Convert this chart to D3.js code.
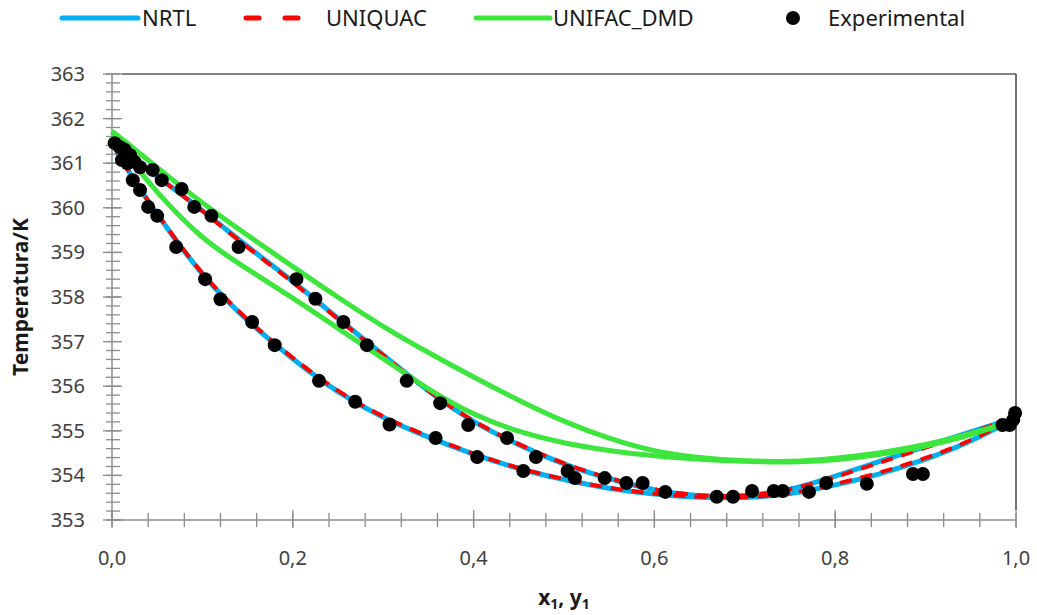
<!DOCTYPE html>
<html>
<head>
<meta charset="utf-8">
<script src="https://cdn.jsdelivr.net/npm/d3@7/dist/d3.min.js"></script>
<style>
  body { margin: 0; background: #fff; }
  svg { font-family: "Liberation Sans Narrow", "Noto Sans", sans-serif; }
</style>
</head>
<body>
<div class="graph"></div>
<script>
// composition grid used for the model curves
var xGrid = [0, 0.02, 0.05, 0.1, 0.15, 0.2, 0.25, 0.3, 0.35, 0.4, 0.45, 0.5,
             0.55, 0.6, 0.65, 0.7, 0.75, 0.8, 0.85, 0.9, 0.95, 1.0];

// NRTL: bubble (liquid) and dew (vapour) temperatures
var nrtlBubble = [361.45, 360.75, 359.85, 358.45, 357.45, 356.6, 355.85, 355.28, 354.85, 354.47, 354.14,
                  353.9, 353.7, 353.57, 353.5, 353.49, 353.57, 353.78, 354.03, 354.35, 354.75, 355.3];
var nrtlDew    = [361.45, 361.15, 360.7, 359.95, 359.12, 358.36, 357.52, 356.7, 355.88, 355.18, 354.68,
                  354.24, 353.92, 353.66, 353.52, 353.52, 353.66, 353.98, 354.32, 354.65, 354.98, 355.3];

// UNIQUAC
var uniquacBubble = [361.45, 360.75, 359.85, 358.47, 357.47, 356.62, 355.87, 355.3, 354.87, 354.48, 354.15,
                     353.91, 353.71, 353.58, 353.51, 353.5, 353.58, 353.8, 354.06, 354.38, 354.77, 355.3];
var uniquacDew    = [361.45, 361.15, 360.7, 359.94, 359.1, 358.34, 357.5, 356.69, 355.88, 355.19, 354.69,
                     354.25, 353.93, 353.67, 353.53, 353.53, 353.66, 353.96, 354.29, 354.62, 354.96, 355.3];

// UNIFAC_DMD
var unifacBubble = [361.7, 361.08, 360.33, 359.28, 358.62, 357.98, 357.3, 356.62, 355.92, 355.35, 354.97,
                    354.72, 354.55, 354.43, 354.36, 354.31, 354.29, 354.34, 354.46, 354.65, 354.9, 355.25];
var unifacDew    = [361.72, 361.4, 360.9, 360.1, 359.38, 358.68, 357.99, 357.33, 356.75, 356.2, 355.68,
                    355.2, 354.82, 354.53, 354.39, 354.32, 354.3, 354.38, 354.5, 354.68, 354.93, 355.25];

// experimental points (x1 or y1, T)
var expX = [0.003, 0.009, 0.014, 0.020, 0.011, 0.017, 0.025, 0.031, 0.023, 0.045, 0.031, 0.055, 0.040,
            0.050, 0.077, 0.091, 0.110, 0.071, 0.103, 0.120, 0.140, 0.155, 0.180, 0.204, 0.225, 0.229,
            0.256, 0.269, 0.282, 0.307, 0.326, 0.358, 0.363, 0.394, 0.404, 0.437, 0.455, 0.469, 0.504,
            0.512, 0.545, 0.569, 0.587, 0.612, 0.669, 0.687, 0.708, 0.732, 0.742, 0.771, 0.790, 0.835,
            0.886, 0.897, 0.985, 0.993, 0.999, 0.997];
var expT = [361.45, 361.36, 361.30, 361.18, 361.07, 361.00, 361.03, 360.91, 360.62, 360.85, 360.40, 360.62, 360.02,
            359.82, 360.42, 360.02, 359.82, 359.12, 358.40, 357.95, 359.12, 357.44, 356.92, 358.40, 357.96, 356.12,
            357.44, 355.65, 356.92, 355.14, 356.12, 354.84, 355.62, 355.13, 354.41, 354.84, 354.10, 354.41, 354.10,
            353.94, 353.94, 353.83, 353.83, 353.63, 353.52, 353.52, 353.65, 353.65, 353.65, 353.63, 353.83, 353.81,
            354.03, 354.03, 355.13, 355.13, 355.40, 355.25];

var xTicks = [0, 0.2, 0.4, 0.6, 0.8, 1.0];
var yTicks = [353, 354, 355, 356, 357, 358, 359, 360, 361, 362, 363];

var seriesNames = ["NRTL", "UNIQUAC", "UNIFAC_DMD", "Experimental"];

var blue = "#00B0F0", red = "#FF0000", green = "#3CE63C";

var width = 1037, height = 615;
var margin = {top: 74, right: 21, bottom: 95, left: 112};

var svg = d3.select("div.graph").append("svg")
    .attr("width", width)
    .attr("height", height);

var x = d3.scaleLinear().domain([0, 1]).range([margin.left, width - margin.right]);
var y = d3.scaleLinear().domain([353, 363]).range([height - margin.bottom, margin.top]);

var axisColor = "#8c8c8c";

// plot frame (top and right)
svg.append("line")
    .attr("x1", x(0) + 10).attr("x2", x(1))
    .attr("y1", y(363)).attr("y2", y(363))
    .attr("stroke", "#595959").attr("stroke-width", 1.5);
svg.append("line")
    .attr("x1", x(1)).attr("x2", x(1))
    .attr("y1", y(363)).attr("y2", y(353) - 10)
    .attr("stroke", "#404040").attr("stroke-width", 1.5);

// y axis: minor ticks every 0.2, major every 1
var yMinor = d3.range(353, 363.001, 0.2);
svg.append("g").selectAll("line")
    .data(yMinor)
    .enter().append("line")
      .attr("x1", x(0) - 6).attr("x2", x(0) + 8)
      .attr("y1", function(d) { return y(d); })
      .attr("y2", function(d) { return y(d); })
      .attr("stroke", axisColor).attr("stroke-width", 1.3);
svg.append("g").selectAll("line")
    .data(yTicks)
    .enter().append("line")
      .attr("x1", x(0) - 9).attr("x2", x(0) + 10)
      .attr("y1", function(d) { return y(d); })
      .attr("y2", function(d) { return y(d); })
      .attr("stroke", axisColor).attr("stroke-width", 1.3);
svg.append("line")
    .attr("x1", x(0)).attr("x2", x(0))
    .attr("y1", y(353)).attr("y2", y(363))
    .attr("stroke", axisColor).attr("stroke-width", 1.5);
svg.append("g").selectAll("text")
    .data(yTicks)
    .enter().append("text")
      .attr("x", x(0) - 27)
      .attr("y", function(d) { return y(d) + 7; })
      .attr("text-anchor", "end")
      .attr("font-size", 20)
      .attr("fill", "#404040")
      .text(function(d) { return d; });

// x axis: minor ticks every 0.04
var xMinor = d3.range(0, 1.0001, 0.04);
svg.append("g").selectAll("line")
    .data(xMinor)
    .enter().append("line")
      .attr("x1", function(d) { return x(d); })
      .attr("x2", function(d) { return x(d); })
      .attr("y1", y(353) - 7).attr("y2", y(353) + 7)
      .attr("stroke", axisColor).attr("stroke-width", 1.3);
svg.append("g").selectAll("line")
    .data(xTicks)
    .enter().append("line")
      .attr("x1", function(d) { return x(d); })
      .attr("x2", function(d) { return x(d); })
      .attr("y1", y(353) - 10).attr("y2", y(353) + 8)
      .attr("stroke", axisColor).attr("stroke-width", 1.3);
svg.append("line")
    .attr("x1", x(0)).attr("x2", x(1))
    .attr("y1", y(353)).attr("y2", y(353))
    .attr("stroke", axisColor).attr("stroke-width", 1.5);
svg.append("g").selectAll("text")
    .data(xTicks)
    .enter().append("text")
      .attr("x", function(d) { return x(d); })
      .attr("y", y(353) + 45)
      .attr("text-anchor", "middle")
      .attr("font-size", 20)
      .attr("fill", "#404040")
      .text(function(d) { return d3.format(".1f")(d).replace(".", ","); });

// axis titles
svg.append("text")
    .attr("transform", "translate(28," + ((y(353) + y(363)) / 2) + ") rotate(-90)")
    .attr("text-anchor", "middle")
    .attr("font-size", 21)
    .attr("font-weight", "bold")
    .attr("fill", "#1a1a1a")
    .text("Temperatura/K");

var xTitle = svg.append("text")
    .attr("x", 564)
    .attr("y", 605)
    .attr("text-anchor", "middle")
    .attr("font-size", 21)
    .attr("font-weight", "bold")
    .attr("fill", "#1a1a1a");
xTitle.append("tspan").text("x");
xTitle.append("tspan").attr("font-size", 14).attr("dy", 4).text("1");
xTitle.append("tspan").attr("dy", -4).text(", y");
xTitle.append("tspan").attr("font-size", 14).attr("dy", 4).text("1");

// curves
var line = d3.line()
    .x(function(d) { return x(d[0]); })
    .y(function(d) { return y(d[1]); })
    .curve(d3.curveBasis);

function pairs(ts) {
  return xGrid.map(function(v, i) { return [v, ts[i]]; });
}

var curves = [
  {data: nrtlBubble, color: blue, w: 5, dash: null},
  {data: nrtlDew, color: blue, w: 5, dash: null},
  {data: uniquacBubble, color: red, w: 4, dash: "12,9"},
  {data: uniquacDew, color: red, w: 4, dash: "12,9"},
  {data: unifacBubble, color: green, w: 5, dash: null},
  {data: unifacDew, color: green, w: 5, dash: null}
];

svg.append("g").selectAll("path")
    .data(curves)
    .enter().append("path")
      .attr("d", function(c) { return line(pairs(c.data)); })
      .attr("fill", "none")
      .attr("stroke", function(c) { return c.color; })
      .attr("stroke-width", function(c) { return c.w; })
      .attr("stroke-dasharray", function(c) { return c.dash; });

// experimental dots
svg.append("g").selectAll("circle")
    .data(expX)
    .enter().append("circle")
      .attr("r", 7)
      .attr("cx", function(d) { return x(d); })
      .attr("cy", function(d, i) { return y(expT[i]); })
      .attr("fill", "#000");

// legend
var legY = 18;
var legend = svg.append("g");
var legItems = [
  {name: seriesNames[0], color: blue, dash: null, x0: 62, x1: 138, tx: 142},
  {name: seriesNames[1], color: red, dash: "13,26", x0: 246, x1: 298, tx: 326},
  {name: seriesNames[2], color: green, dash: null, x0: 476, x1: 550, tx: 553}
];
legItems.forEach(function(it) {
  legend.append("line")
      .attr("x1", it.x0).attr("x2", it.x1)
      .attr("y1", legY).attr("y2", legY)
      .attr("stroke", it.color)
      .attr("stroke-width", 5)
      .attr("stroke-linecap", "round")
      .attr("stroke-dasharray", it.dash);
  legend.append("text")
      .attr("x", it.tx).attr("y", legY + 8)
      .attr("font-size", 22)
      .attr("fill", "#1a1a1a")
      .text(it.name);
});
legend.append("circle")
    .attr("cx", 793).attr("cy", legY).attr("r", 7).attr("fill", "#000");
legend.append("text")
    .attr("x", 828).attr("y", legY + 8)
    .attr("font-size", 22)
    .attr("fill", "#1a1a1a")
    .text(seriesNames[3]);
</script>
</body>
</html>
